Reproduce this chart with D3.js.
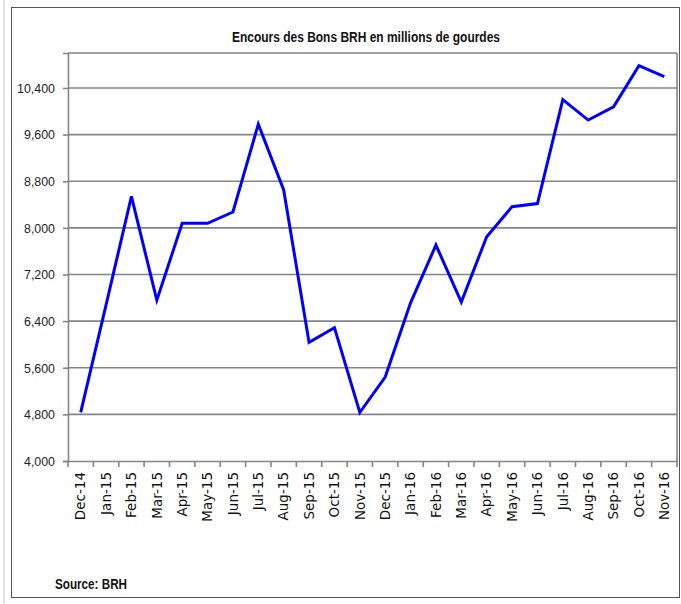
<!DOCTYPE html>
<html>
<head>
<meta charset="utf-8">
<script src="https://cdn.jsdelivr.net/npm/d3@7"></script>
<style>
  html, body { margin: 0; padding: 0; background: #fff; }
  svg { display: block; }
</style>
</head>
<body>
<svg id="chart" width="681" height="604"></svg>
<script>
const categories = ["Dec-14","Jan-15","Feb-15","Mar-15","Apr-15","May-15","Jun-15","Jul-15","Aug-15","Sep-15","Oct-15","Nov-15",
                    "Dec-15","Jan-16","Feb-16","Mar-16","Apr-16","May-16","Jun-16","Jul-16","Aug-16","Sep-16","Oct-16","Nov-16"];
const encours = [4835, 6680, 8540, 6760, 8077, 8077, 8272, 9780, 8650, 6035, 6288, 4832,
                 5440, 6713, 7705, 6728, 7848, 8364, 8416, 10199, 9849, 10078, 10784, 10596];
const yTicks = [4000, 4800, 5600, 6400, 7200, 8000, 8800, 9600, 10400];
const yDomain = [4000, 11000];
const title = "Encours des Bons BRH en millions de gourdes";
const source = "Source: BRH";

const svg = d3.select("#chart");
const plot = {left: 68, right: 677, top: 53, bottom: 461};

// outer frame
svg.append("line").attr("x1", 4).attr("x2", 4).attr("y1", 0).attr("y2", 604)
  .attr("stroke", "#c8c8c8").attr("stroke-width", 1);
svg.append("rect").attr("x", 11.5).attr("y", 7.5).attr("width", 668).attr("height", 590)
  .attr("fill", "none").attr("stroke", "#555").attr("stroke-width", 1);

const x = d3.scaleBand().domain(categories).range([plot.left, plot.right]).padding(0);
const y = d3.scaleLinear().domain(yDomain).range([plot.bottom, plot.top]);

// gridlines
svg.append("g").selectAll("line").data(yTicks.slice(1)).join("line")
  .attr("x1", plot.left).attr("x2", plot.right)
  .attr("y1", d => y(d)).attr("y2", d => y(d))
  .attr("stroke", "#858585").attr("stroke-width", 1.6);

// plot border top/right
svg.append("line").attr("x1", plot.left).attr("x2", plot.right).attr("y1", plot.top).attr("y2", plot.top)
  .attr("stroke", "#858585").attr("stroke-width", 1.6);
svg.append("line").attr("x1", plot.right).attr("x2", plot.right).attr("y1", plot.top).attr("y2", plot.bottom)
  .attr("stroke", "#858585").attr("stroke-width", 1.6);

// y axis
const yAxis = d3.axisLeft(y).tickValues(yTicks).tickFormat(d3.format(",")).tickSize(5).tickPadding(8);
const gy = svg.append("g").attr("transform", `translate(${plot.left},0)`).call(yAxis);
gy.select(".domain").attr("stroke", "#858585").attr("stroke-width", 1.6);
gy.selectAll(".tick line").attr("stroke", "#858585").attr("stroke-width", 1.6);
gy.selectAll(".tick text").attr("fill", "#222").style("font-family", "'Liberation Sans', Arial, sans-serif")
  .style("font-size", "13.5px").attr("textLength", 38).attr("lengthAdjust", "spacingAndGlyphs");
gy.selectAll(".tick text").filter(d => d < 10000).attr("textLength", 31);

// x axis
const xAxis = d3.axisBottom(x).tickSize(0).tickFormat(d => d);
const gx = svg.append("g").attr("transform", `translate(0,${plot.bottom})`).call(xAxis);
gx.select(".domain").attr("stroke", "#858585").attr("stroke-width", 1.6);
gx.selectAll(".tick text")
  .attr("transform", "rotate(-90)")
  .attr("x", -11).attr("y", 0).attr("dy", "0.35em")
  .attr("text-anchor", "end")
  .attr("fill", "#111")
  .style("font-family", "'DejaVu Sans', Verdana, sans-serif")
  .style("font-size", "13.5px");
// tick marks between categories
const bounds = categories.map(c => x(c)).concat([plot.right]);
svg.append("g").selectAll("line").data(bounds).join("line")
  .attr("x1", d => d).attr("x2", d => d)
  .attr("y1", plot.bottom).attr("y2", plot.bottom + 6)
  .attr("stroke", "#858585").attr("stroke-width", 1.6);

// line
const line = d3.line()
  .x((d, i) => x(categories[i]) + x.bandwidth() / 2)
  .y(d => y(d));
svg.append("path").datum(encours).attr("d", line)
  .attr("fill", "none").attr("stroke", "#0000ff").attr("stroke-width", 3)
  .attr("stroke-linejoin", "miter");

// title
svg.append("text").attr("x", 366).attr("y", 42).attr("text-anchor", "middle")
  .attr("textLength", 268).attr("lengthAdjust", "spacingAndGlyphs")
  .style("font-family", "'Liberation Sans', Arial, sans-serif").style("font-weight", "bold")
  .style("font-size", "14.5px").attr("fill", "#111").text(title);

// source
svg.append("text").attr("x", 55).attr("y", 589)
  .attr("textLength", 72).attr("lengthAdjust", "spacingAndGlyphs")
  .style("font-family", "'Liberation Sans', Arial, sans-serif").style("font-weight", "bold")
  .style("font-size", "14.5px").attr("fill", "#111").text(source);
</script>
</body>
</html>
